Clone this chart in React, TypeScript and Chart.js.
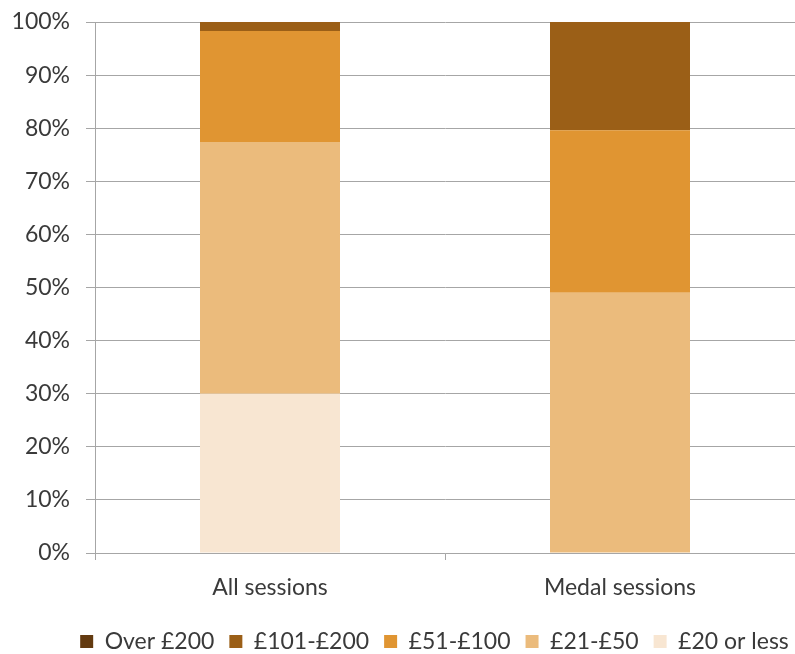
import React, { useEffect, useRef } from "react";
import { Chart, registerables } from "chart.js";

Chart.register(...registerables);

const categories = ["All sessions", "Medal sessions"];
const seriesNames = ["£20 or less", "£21-£50", "£51-£100", "£101-£200", "Over £200"];
const seriesColors = ["#f8e6d2", "#ebbb7c", "#e09532", "#9b5f17", "#633a10"];
const under20 = [30.0, 0];
const from21to50 = [47.4, 49.0];
const from51to100 = [20.9, 30.6];
const from101to200 = [1.7, 20.4];
const over200 = [0, 0];
const seriesValues = [under20, from21to50, from51to100, from101to200, over200];

const FONT = "Lato, 'Open Sans', sans-serif";
const TEXT = "#3a3a3a";
const GRID = "#a6a6a6";
const FS = 23;
const LEGEND_SHIFT = 37;

// Nudge the legend row to the right so it sits under the plot area
const legendShift = {
  id: "legendShift",
  afterLayout(chart: any) {
    const lg = chart.legend;
    if (lg) {
      lg.left += LEGEND_SHIFT;
      lg.right += LEGEND_SHIFT;
    }
  },
};

export default function App() {
  const ref = useRef<HTMLCanvasElement | null>(null);

  useEffect(() => {
    if (!ref.current) return;
    const chart = new Chart(ref.current, {
      type: "bar",
      data: {
        labels: categories,
        datasets: seriesNames.map((name, i) => ({
          label: name,
          data: seriesValues[i],
          backgroundColor: seriesColors[i],
          borderWidth: 0,
          barPercentage: 0.4,
          categoryPercentage: 1,
        })),
      },
      options: {
        animation: false,
        responsive: false,
        maintainAspectRatio: false,
        layout: { padding: { top: 22, left: 0, right: 0, bottom: -9 } },
        plugins: {
          tooltip: { enabled: false },
          legend: {
            position: "bottom",
            reverse: true,
            labels: {
              color: TEXT,
              font: { family: FONT, size: FS },
              boxWidth: 13,
              boxHeight: 13,
              padding: 15,
            },
          },
        },
        scales: {
          x: {
            stacked: true,
            grid: {
              offset: true,
              drawOnChartArea: false,
              color: GRID,
              tickLength: 7,
            },
            border: { color: GRID, width: 1 },
            ticks: { color: TEXT, font: { family: FONT, size: FS }, padding: 14 },
            afterFit: (s: any) => {
              s.height = 62;
            },
          },
          y: {
            stacked: true,
            min: 0,
            max: 100,
            ticks: {
              stepSize: 10,
              color: TEXT,
              font: { family: FONT, size: FS },
              padding: 16,
              callback: (v: any) => v + "%",
            },
            grid: { color: GRID, tickLength: 9 },
            border: { color: GRID, width: 1 },
            afterFit: (s: any) => {
              s.width = 95;
              s.paddingTop = 0;
              s.paddingBottom = 0;
            },
          },
        },
      },
      plugins: [legendShift],
    });
    return () => chart.destroy();
  }, []);

  return (
    <div style={{ position: "absolute", left: 0, top: 0, width: 795, height: 654, background: "#fff" }}>
      <canvas ref={ref} width={795} height={654} />
    </div>
  );
}
